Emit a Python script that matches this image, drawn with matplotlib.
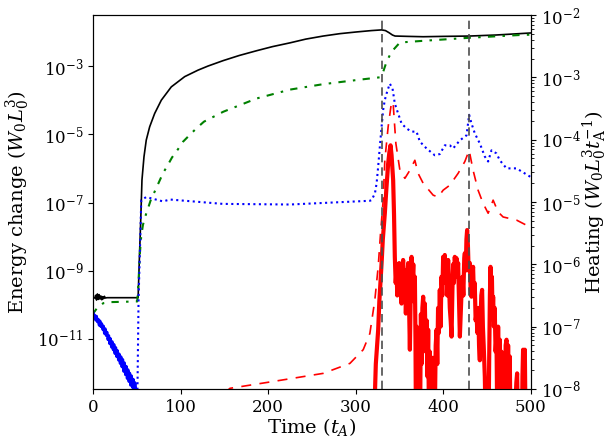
import numpy as np
import matplotlib.pyplot as plt
from matplotlib.ticker import FixedLocator, NullLocator, LogLocator, LogFormatterSciNotation

plt.rcParams['font.family'] = 'DejaVu Serif'
plt.rcParams['mathtext.fontset'] = 'dejavuserif'

# --- energy change (left axis), values given as log10 ---
t_black = [0, 2, 3, 4, 5, 6, 7, 8, 9, 10, 11, 12, 13, 14, 16, 30, 50, 51.5, 53, 54.5, 55.9,
           58.2, 60.8, 64.7, 70.4, 78, 89.4, 104.7, 119.9, 131.3, 148.7, 167, 186.9, 205,
           224.9, 243, 262.9, 282, 301, 318, 329.6, 334, 338, 342, 345, 360, 377, 400, 430,
           460, 487, 500]
log_black = [-9.79, -9.80, -9.72, -9.86, -9.68, -9.84, -9.70, -9.83, -9.74, -9.85, -9.76,
             -9.82, -9.75, -9.80, -9.79, -9.79, -9.79, -9.79, -8.6, -7.51, -6.34,
             -5.66, -5.17, -4.78, -4.39, -4.00, -3.61, -3.31, -3.12, -3.00, -2.84, -2.69,
             -2.55, -2.43, -2.32, -2.21, -2.12, -2.05, -2.00, -1.96, -1.94, -1.96, -2.02,
             -2.09, -2.12, -2.13, -2.14, -2.13, -2.12, -2.09, -2.05, -2.03]

t_green = [0, 1.1, 5, 11.8, 19.4, 35, 50, 50.5, 52, 53.5, 55, 57, 59, 62.8, 65.9, 70.4, 75,
           79.9, 84.8, 90.2, 97, 102.7, 110.4, 117.9, 126.7, 148.7, 186.9, 225, 263, 301,
           327.6, 331.4, 335.3, 341, 350.5, 377, 430.4, 487.4, 500]
log_green = [-10.3, -10.22, -10.08, -9.95, -9.92, -9.91, -9.90, -9.90, -9.3, -8.5, -8.0,
             -7.66, -7.46, -7.17, -6.93, -6.68, -6.42, -6.14, -5.93, -5.68, -5.44, -5.22,
             -5.02, -4.83, -4.63, -4.34, -3.95, -3.69, -3.53, -3.41, -3.33, -3.17, -2.87,
             -2.58, -2.31, -2.26, -2.17, -2.09, -2.08]

t_blue = np.arange(0, 51)
log_blue = [-10.22, -10.34, -10.30, -10.45, -10.33, -10.50, -10.42, -10.60, -10.47, -10.64,
            -10.55, -10.72, -10.62, -10.84, -10.70, -10.90, -10.80, -11.02, -10.90, -11.14,
            -10.99, -11.24, -11.08, -11.32, -11.16, -11.43, -11.25, -11.52, -11.34, -11.62,
            -11.44, -11.72, -11.52, -11.82, -11.60, -11.95, -11.70, -12.05, -11.80, -12.16,
            -11.90, -12.25, -12.00, -12.36, -12.08, -12.42, -12.18, -12.46, -12.28, -12.50, -13.0]

# --- heating (right axis), values given as log10 ---
t_dot = [0, 49.9, 52, 54.2, 55.1, 60.8, 79.9, 87.9, 148.4, 224.9, 316.2, 318.2, 322, 323.9,
         325.7, 327.6, 329.6, 331.4, 333.3, 335.9, 339, 342.1, 344.7, 348.5, 352.4, 358.1,
         363.8, 369.5, 373.3, 380.9, 390.4, 396.1, 401.8, 407.5, 411.3, 419, 426.6, 429.6,
         432.3, 436.1, 441.8, 447.5, 451.3, 455.1, 460.8, 464.6, 472.3, 483.7, 498.9, 500]
log_dot = [-9, -9, -6.57, -5.45, -4.97, -4.92, -4.99, -4.96, -5.03, -5.04, -4.98, -4.97,
           -4.86, -4.70, -4.43, -4.11, -3.79, -3.52, -3.36, -3.23, -3.10, -3.18, -3.42,
           -3.58, -3.74, -3.82, -3.87, -3.87, -4.03, -4.14, -4.25, -4.23, -4.09, -4.09,
           -4.14, -4.01, -3.93, -3.60, -3.74, -3.90, -4.06, -4.27, -4.35, -4.17, -4.22,
           -4.33, -4.46, -4.46, -4.59, -4.60]

t_dash = [0, 140, 156.4, 205.8, 262.9, 293.4, 308.6, 316.2, 321.9, 325.7, 328.4, 331.4,
          333.3, 337.1, 341, 342.8, 345.9, 350.5, 356.2, 361.9, 367.6, 371.3, 377.1, 388.5,
          394.2, 399.9, 407.5, 417, 424.7, 429.6, 434.1, 439.8, 445.5, 451.3, 457, 462.7,
          468.4, 483.7, 498.9, 500]
log_dash = [-9, -8.2, -7.99, -7.88, -7.75, -7.59, -7.37, -7.11, -6.57, -6.04, -5.50, -4.97,
            -4.33, -3.79, -3.39, -3.42, -4.06, -4.49, -4.62, -4.49, -4.33, -4.54, -4.70,
            -4.89, -4.92, -4.81, -4.73, -4.54, -4.35, -4.17, -4.49, -4.81, -5.02, -5.18,
            -4.97, -5.16, -5.24, -5.29, -5.40, -5.40]

t_red = [300, 320, 321.5, 323, 325.7, 327, 329.6, 331, 333.3, 335, 337.1, 338.5, 339.8, 341,
         342.8, 343.8, 344.7, 345.7, 346.7, 347.5, 348.5, 349.7, 350.5, 351.5, 352.4, 353.3,
         354.2, 355.2, 356.3, 357.3, 358.4, 359.9, 360.9, 361.9, 362.8, 363.8, 364.8, 365.8,
         366.7, 367.6, 368.3, 368.8, 369.6, 370.4, 371.2, 372, 372.8, 373.6, 374.5, 375.3,
         376.2, 377.1, 378, 379, 380, 381, 382, 382.8, 383.6, 384.5, 385.4, 386.3, 387.1,
         388, 388.8, 389.6, 390.4, 391.4, 392.4, 393.2, 394.1, 395, 396.1, 397, 398, 399,
         399.9, 400.8, 401.8, 402.8, 403.7, 404.6, 405.6, 406.6, 407.5, 408.5, 409.5, 410.5,
         411.3, 412.2, 413.2, 414.1, 415.1, 416, 417, 418, 419, 420, 421, 422, 423, 424,
         424.7, 425.7, 426.5, 427.3, 428.2, 429, 430.4, 431.3, 432.3, 433.2, 434.1, 435, 436,
         437, 438, 439, 440, 440.9, 441.8, 442.6, 443.5, 444.4, 445.3, 446.2, 447.5, 448.4,
         449.4, 450.4, 451.5, 452.5, 453.3, 454, 454.8, 455.6, 456.3, 457, 457.9, 458.8,
         459.8, 460.8, 461.8, 462.7, 463.6, 464.6, 465.5, 466.4, 467.4, 468.4, 469.3, 470.3,
         471.3, 472.3, 473.2, 474.1, 475.1, 476, 477, 478, 479, 480, 481.7, 482.6, 483.5,
         484.4, 485.2, 486, 489.7, 490.5, 491.2, 492.2, 493.2, 494.3, 500]
log_red = [-10, -9.5, -8.3, -7.6, -7.05, -6.6, -5.98, -5.6, -5.18, -4.8, -4.38, -4.2, -4.09,
           -4.25, -4.65, -5.2, -5.88, -6.3, -6.09, -6.5, -6.0, -5.98, -6.4, -6.1, -6.63, -6.2,
           -5.93, -6.5, -6.1, -6.79, -6.3, -5.98, -6.6, -7.37, -6.5, -5.88, -6.3, -6.0, -6.6,
           -6.2, -7.2, -8.5, -7.0, -8.6, -7.3, -8.8, -7.1, -8.4, -6.8, -7.6, -6.7, -6.52, -7.0,
           -6.63, -7.4, -6.9, -7.8, -7.05, -8.3, -7.4, -8.6, -7.7, -8.8, -7.5, -8.5, -7.6,
           -8.4, -7.3, -7.05, -7.6, -6.7, -7.1, -6.41, -7.0, -6.2, -6.5, -5.88, -6.3, -5.85,
           -6.2, -6.0, -6.5, -5.93, -6.3, -6.7, -6.9, -7.16, -6.4, -6.0, -6.3, -5.88, -6.1,
           -5.9, -6.2, -5.98, -6.6, -7.16, -6.8, -6.41, -6.2, -6.5, -5.9, -5.82, -6.1, -5.6,
           -5.45, -5.7, -6.1, -5.98, -6.4, -6.52, -6.2, -6.04, -6.5, -6.3, -6.9, -6.79, -7.1,
           -6.7, -7.3, -7.54, -6.9, -6.5, -6.41, -7.0, -7.3, -7.8, -8.5, -9.0, -8.4, -9.0,
           -7.5, -6.5, -6.04, -6.6, -6.2, -6.8, -6.52, -7.0, -6.7, -7.4, -7.16, -8.6, -7.0,
           -8.5, -7.21, -8.8, -7.4, -8.9, -9.0, -7.6, -8.7, -7.3, -7.21, -8.6, -7.3, -8.8,
           -7.48, -8.9, -9.0, -8.2, -9.0, -9.0, -8.2, -7.9, -7.75, -8.5, -9.0, -9.0, -7.8,
           -7.37, -7.6, -7.37, -9.0, -9.0]

t_marks = [330, 430]

fig = plt.figure(figsize=(6.08, 4.44), dpi=100)
ax = fig.add_axes([0.153, 0.124, 0.72, 0.842])
ax2 = ax.twinx()

ax.plot(t_black, 10.0**np.array(log_black), color='black', lw=1.2)
ax.plot(t_green, 10.0**np.array(log_green), color='green', lw=1.5,
        linestyle=(0, (3.5, 3.5, 1.2, 3.5)))
ax.plot(t_blue, 10.0**np.array(log_blue), color='blue', lw=2)

ax2.plot(t_dot, 10.0**np.array(log_dot), color='blue', lw=1.5, linestyle=':')
ax2.plot(t_dash, 10.0**np.array(log_dash), color='red', lw=1.2, linestyle=(0, (6, 5)))
ax2.plot(t_red, 10.0**np.array(log_red), color='red', lw=3)
for tm in t_marks:
    ax2.axvline(tm, color='0.3', lw=1.2, linestyle=(0, (5, 3)))

ax.set_yscale('log')
ax.set_ylim(10**-12.465, 10**-1.506)
ax.yaxis.set_major_locator(FixedLocator([1e-11, 1e-9, 1e-7, 1e-5, 1e-3]))
ax.yaxis.set_major_formatter(LogFormatterSciNotation())
ax.yaxis.set_minor_locator(NullLocator())

ax2.set_yscale('log')
ax2.set_ylim(1e-8, 1e-2)
ax2.yaxis.set_major_locator(LogLocator(base=10, numticks=10))
ax2.yaxis.set_minor_locator(LogLocator(base=10, subs=np.arange(2, 10), numticks=20))

ax.set_xlim(0, 500)
ax.set_xticks([0, 100, 200, 300, 400, 500])

ax.tick_params(labelsize=12)
ax2.tick_params(labelsize=12)
ax.set_xlabel('Time ($t_A$)', fontsize=14, labelpad=0)
ax.set_ylabel('Energy change ($W_0L_0^3$)', fontsize=14)
ax2.set_ylabel(r'Heating ($W_0L_0^3t_\mathrm{A}^{-1}$)', fontsize=14, labelpad=0)

fig.savefig('out.png', dpi=100)
